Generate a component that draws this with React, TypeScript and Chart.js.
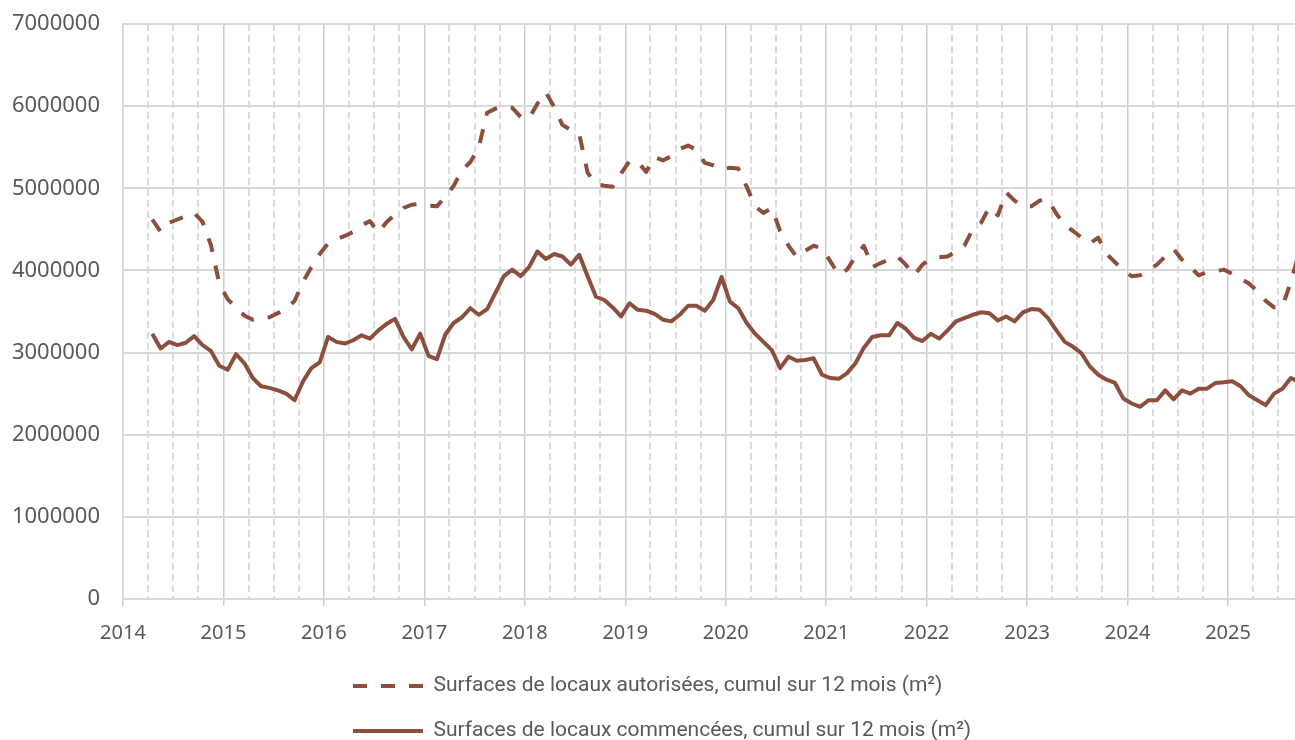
import React, { useEffect, useRef } from 'react';
import { Chart, registerables } from 'chart.js';

Chart.register(...registerables);

// ---- Data -------------------------------------------------------------
const START_YEAR = 2014;
const START_MONTH = 4; // first monthly value: April 2014
const X_MIN = 2014;
const X_MAX = 2025 + 8 / 12; // axis ends at 1 Sept 2025

const yearTicks = [2014, 2015, 2016, 2017, 2018, 2019, 2020, 2021, 2022, 2023, 2024, 2025];

const seriesLabels = [
  'Surfaces de locaux autorisées, cumul sur 12 mois (m²)',
  'Surfaces de locaux commencées, cumul sur 12 mois (m²)',
];

// Surfaces autorisées, monthly (Apr 2014 -> Sep 2025)
const autorisees = [
  4620000, 4470000, 4580000, 4620000, 4660000, 4700000, 4590000, 4310000, 3840000,
  3650000, 3550000, 3450000, 3400000, 3410000, 3430000, 3480000, 3530000, 3630000, 3860000, 4040000, 4200000,
  4330000, 4380000, 4420000, 4470000, 4550000, 4600000, 4460000, 4590000, 4680000, 4760000, 4800000, 4810000,
  4790000, 4780000, 4900000, 5030000, 5220000, 5320000, 5500000, 5920000, 5970000, 6000000, 5980000, 5870000,
  5850000, 6030000, 6170000, 5990000, 5770000, 5710000, 5660000, 5190000, 5050000, 5030000, 5020000, 5180000,
  5330000, 5320000, 5200000, 5380000, 5340000, 5390000, 5480000, 5520000, 5470000, 5310000, 5280000, 5230000,
  5250000, 5240000, 5020000, 4780000, 4700000, 4760000, 4480000, 4300000, 4160000, 4240000, 4300000, 4270000,
  4110000, 3950000, 4010000, 4170000, 4300000, 4040000, 4090000, 4130000, 4170000, 4070000, 3940000, 4070000,
  4140000, 4160000, 4170000, 4230000, 4300000, 4500000, 4580000, 4770000, 4670000, 4950000, 4850000, 4780000,
  4780000, 4850000, 4860000, 4690000, 4550000, 4480000, 4400000, 4330000, 4400000, 4200000, 4100000, 4000000,
  3930000, 3940000, 4000000, 4070000, 4170000, 4260000, 4130000, 4040000, 3940000, 3980000, 3990000, 4010000,
  3960000, 3900000, 3840000, 3750000, 3630000, 3550000, 3560000, 3860000, 4220000,
];

// Surfaces commencées, monthly (Apr 2014 -> Sep 2025)
const commencees = [
  3230000, 3050000, 3130000, 3090000, 3120000, 3200000, 3090000, 3020000, 2840000,
  2790000, 2980000, 2870000, 2690000, 2590000, 2570000, 2540000, 2500000, 2420000, 2650000, 2810000, 2880000,
  3190000, 3130000, 3110000, 3150000, 3210000, 3170000, 3270000, 3350000, 3410000, 3190000, 3040000, 3230000,
  2960000, 2920000, 3220000, 3360000, 3430000, 3540000, 3460000, 3530000, 3730000, 3930000, 4010000, 3930000,
  4040000, 4230000, 4140000, 4200000, 4170000, 4070000, 4190000, 3930000, 3680000, 3640000, 3550000, 3440000,
  3600000, 3520000, 3510000, 3470000, 3400000, 3380000, 3460000, 3570000, 3570000, 3510000, 3640000, 3920000,
  3620000, 3540000, 3360000, 3230000, 3130000, 3030000, 2810000, 2950000, 2900000, 2910000, 2930000, 2730000,
  2690000, 2680000, 2750000, 2870000, 3060000, 3190000, 3210000, 3210000, 3360000, 3290000, 3180000, 3140000,
  3230000, 3170000, 3270000, 3380000, 3420000, 3460000, 3490000, 3480000, 3390000, 3440000, 3380000, 3490000,
  3530000, 3520000, 3420000, 3270000, 3130000, 3070000, 2990000, 2830000, 2730000, 2670000, 2630000, 2440000,
  2380000, 2340000, 2420000, 2420000, 2540000, 2430000, 2540000, 2500000, 2560000, 2560000, 2630000, 2640000,
  2650000, 2590000, 2480000, 2420000, 2360000, 2500000, 2560000, 2690000, 2640000,
];

// Monthly categories "YYYY-MM"
const months: string[] = autorisees.map((_, i) => {
  const m = START_MONTH - 1 + i;
  return `${START_YEAR + Math.floor(m / 12)}-${String((m % 12) + 1).padStart(2, '0')}`;
});

// a month is placed at its middle on a decimal-year axis
const monthToX = (s: string) => {
  const [y, m] = s.split('-').map(Number);
  return y + (m - 0.5) / 12;
};

// quarterly grid positions (year lines solid, quarter lines dashed)
const quarterTicks: number[] = [];
yearTicks.forEach((y) => {
  [0, 0.25, 0.5, 0.75].forEach((q) => {
    if (y + q < X_MAX) quarterTicks.push(y + q);
  });
});

// ---- Style ------------------------------------------------------------
const LINE_COLOR = '#8D4F3D';
const TEXT_COLOR = '#595959';
const DASH = [14, 14];
const X_FONT = { family: "'Noto Sans', sans-serif", size: 20 };
const Y_FONT = { family: "'Noto Sans', sans-serif", size: 22 };
const LEGEND_FONT = { family: "Roboto, 'Noto Sans', sans-serif", size: 21 };
const LEGEND_LEFT = 329;
const LEGEND_TOP = 651.5;
const LEGEND_WRAP = 750;

const isYearTick = (ctx: any) => !!ctx.tick && Number.isInteger(ctx.tick.value);

const legendLayout = {
  id: 'legendLayout',
  beforeUpdate(chart: any) {
    const lg = chart.legend;
    if (lg && !lg.__wrapped) {
      const orig = lg.update;
      lg.update = function (maxWidth: number, maxHeight: number, margins: any) {
        return orig.call(this, Math.min(maxWidth, LEGEND_WRAP), maxHeight, margins);
      };
      lg.__wrapped = true;
    }
  },
  afterLayout(chart: any) {
    const lg = chart.legend;
    if (!lg) return;
    const h = lg.height;
    lg.left = LEGEND_LEFT;
    lg.right = LEGEND_LEFT + LEGEND_WRAP;
    lg.width = LEGEND_WRAP;
    lg.top = LEGEND_TOP;
    lg.bottom = LEGEND_TOP + h;
  },
};

export default function App() {
  const canvasRef = useRef<HTMLCanvasElement | null>(null);

  useEffect(() => {
    if (!canvasRef.current) return;
    const chart = new Chart(canvasRef.current, {
      type: 'line',
      data: {
        datasets: [
          {
            label: seriesLabels[0],
            data: autorisees.map((v, i) => ({ x: monthToX(months[i]), y: v })),
            borderColor: LINE_COLOR,
            backgroundColor: LINE_COLOR,
            borderWidth: 4,
            borderDash: DASH,
            borderJoinStyle: 'round',
            pointRadius: 0,
            pointHoverRadius: 0,
            tension: 0,
            fill: false,
          },
          {
            label: seriesLabels[1],
            data: commencees.map((v, i) => ({ x: monthToX(months[i]), y: v })),
            borderColor: LINE_COLOR,
            backgroundColor: LINE_COLOR,
            borderWidth: 4,
            borderJoinStyle: 'round',
            pointRadius: 0,
            pointHoverRadius: 0,
            tension: 0,
            fill: false,
          },
        ],
      },
      options: {
        animation: false,
        responsive: false,
        devicePixelRatio: 1,
        layout: { padding: { top: 24, right: 0, bottom: 0, left: 0 } },
        plugins: {
          legend: {
            position: 'bottom',
            align: 'start',
            labels: {
              usePointStyle: true,
              pointStyle: 'line',
              pointStyleWidth: 70,
              padding: 24,
              color: TEXT_COLOR,
              font: LEGEND_FONT,
              generateLabels: (c: any) =>
                c.data.datasets.map((ds: any, i: number) => ({
                  text: ds.label,
                  fillStyle: ds.borderColor,
                  strokeStyle: ds.borderColor,
                  fontColor: TEXT_COLOR,
                  lineWidth: ds.borderWidth,
                  lineDash: ds.borderDash || [],
                  lineCap: 'butt',
                  pointStyle: 'line',
                  hidden: false,
                  datasetIndex: i,
                })),
            },
          },
          tooltip: { enabled: false },
        },
        scales: {
          x: {
            type: 'linear',
            min: X_MIN,
            max: X_MAX,
            afterBuildTicks: (scale: any) => {
              scale.ticks = quarterTicks.map((v) => ({ value: v }));
            },
            afterFit: (scale: any) => {
              scale.height = 41;
            },
            ticks: {
              autoSkip: false,
              maxRotation: 0,
              minRotation: 0,
              padding: 15,
              color: TEXT_COLOR,
              font: X_FONT,
              callback: (v: any) => (Number.isInteger(v) ? String(v) : ''),
            },
            grid: {
              color: (ctx: any) => (isYearTick(ctx) ? '#CDCDCD' : '#DCDCDC'),
              lineWidth: (ctx: any) => (isYearTick(ctx) ? 1.5 : 2),
              tickColor: (ctx: any) => (isYearTick(ctx) ? '#CDCDCD' : 'rgba(0,0,0,0)'),
              tickLength: 7,
              drawTicks: true,
            },
            border: {
              display: true,
              color: '#D9D9D9',
              width: 2,
              dash: (ctx: any) => (ctx.tick && !Number.isInteger(ctx.tick.value) ? [7, 4] : []),
            },
          },
          y: {
            min: 0,
            max: 7000000,
            afterFit: (scale: any) => {
              scale.width = 123;
            },
            ticks: {
              stepSize: 1000000,
              padding: 0,
              color: TEXT_COLOR,
              font: Y_FONT,
              callback: (v: any) => String(v),
            },
            grid: {
              color: '#D9D9D9',
              lineWidth: 2,
              drawTicks: true,
              tickLength: 23,
              tickColor: 'rgba(0,0,0,0)',
            },
            border: { display: true, color: '#D9D9D9', width: 2 },
          },
        },
      } as any,
      plugins: [legendLayout],
    });
    return () => chart.destroy();
  }, []);

  return (
    <div style={{ position: 'absolute', left: 0, top: 0, width: 1295, height: 740, background: '#fff' }}>
      <canvas ref={canvasRef} width={1295} height={740} style={{ display: 'block' }} />
    </div>
  );
}
